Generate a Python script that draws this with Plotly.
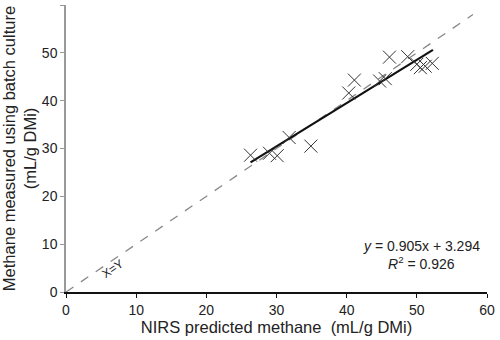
import plotly.graph_objects as go

# Data
nirs_predicted = [26.3, 29.0, 30.1, 31.8, 34.9, 40.3, 41.1, 44.7, 45.5, 46.1, 48.7, 50.0, 50.5, 51.2, 52.2]
measured =       [28.6, 29.0, 28.5, 32.3, 30.5, 41.6, 44.3, 44.1, 44.6, 49.1, 49.2, 47.6, 46.9, 47.2, 47.8]
slope, intercept = 0.905, 3.294
fit_x = [26.3, 52.3]
identity_x = [0, 58]

fig = go.Figure()
fig.add_trace(go.Scatter(x=identity_x, y=identity_x, mode="lines",
                         line=dict(color="#888888", width=1.3, dash="dash"), hoverinfo="skip"))
fig.add_trace(go.Scatter(x=fit_x, y=[slope * v + intercept for v in fit_x], mode="lines",
                         line=dict(color="#111111", width=2.2), hoverinfo="skip"))
fig.add_trace(go.Scatter(x=nirs_predicted, y=measured, mode="markers",
                         marker=dict(symbol="x-thin-open", size=13, color="#333333",
                                     line=dict(color="#333333", width=1))))

font = dict(family="Liberation Sans, Arial, sans-serif", size=14, color="#222222")
fig.update_layout(
    width=500, height=340, showlegend=False,
    margin=dict(l=66, r=8, t=5, b=48),
    paper_bgcolor="white", plot_bgcolor="white", font=font,
    xaxis=dict(range=[0, 60], dtick=10, showgrid=False, zeroline=False,
               showline=True, linecolor="#111111", linewidth=2,
               ticks="outside", ticklen=4, tickcolor="#111111",
               tickfont=dict(size=14),
               title=dict(text="NIRS predicted methane &nbsp;(mL/g DMi)", standoff=4,
                          font=dict(size=16.5))),
    yaxis=dict(range=[0, 60], dtick=10, showgrid=False, zeroline=False,
               showline=True, linecolor="#999999", linewidth=1.5,
               ticks="outside", ticklen=4, tickcolor="#999999",
               tickfont=dict(size=14),
               title=dict(text="Methane measured using batch culture<br>(mL/g DMi)",
                          standoff=4, font=dict(size=16.5))),
)
fig.add_annotation(x=50.6, y=9.7, xref="x", yref="y", showarrow=False,
                   text="<i>y</i> = 0.905x + 3.294", font=dict(size=14))
fig.add_annotation(x=50.6, y=6.1, xref="x", yref="y", showarrow=False,
                   text="<i>R</i><sup>2</sup> = 0.926", font=dict(size=14))
fig.add_annotation(x=6.6, y=4.9, xref="x", yref="y", showarrow=False,
                   text="X=Y", textangle=-34, font=dict(size=12))

fig.write_html("out.html", config={"displayModeBar": False})

# remove the browser's default page margin so the figure sits at the window's corner
with open("out.html", encoding="utf-8") as f:
    html = f.read()
html = html.replace("<head>", "<head><style>html,body{margin:0;padding:0;overflow:hidden}</style>", 1)
with open("out.html", "w", encoding="utf-8") as f:
    f.write(html)
